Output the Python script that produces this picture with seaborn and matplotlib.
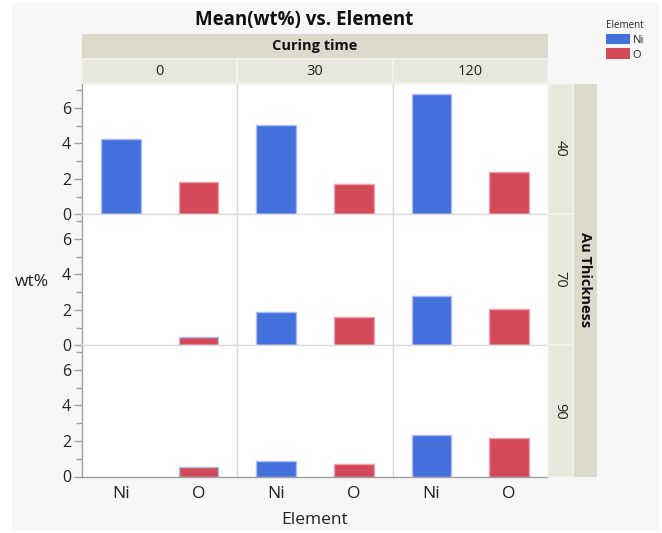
import numpy as np
import pandas as pd
import matplotlib
matplotlib.use("Agg")
import matplotlib.pyplot as plt
from matplotlib.patches import Rectangle, Patch
from matplotlib.ticker import FixedLocator
import seaborn as sns

# data (mean wt%)
elements = ["Ni", "O"]
curing_times = [0, 30, 120]
thicknesses = [40, 70, 90]
ni_40 = [4.24, 5.01, 6.76]
o_40 = [1.84, 1.69, 2.37]
ni_70 = [np.nan, 1.86, 2.76]
o_70 = [0.45, 1.58, 2.06]
ni_90 = [np.nan, 0.85, 2.35]
o_90 = [0.51, 0.70, 2.14]

rows = []
for thick, ni_vals, o_vals in [(40, ni_40, o_40), (70, ni_70, o_70), (90, ni_90, o_90)]:
    for ct, ni, o in zip(curing_times, ni_vals, o_vals):
        rows.append({"Au Thickness": thick, "Curing time": ct, "Element": "Ni", "wt%": ni})
        rows.append({"Au Thickness": thick, "Curing time": ct, "Element": "O", "wt%": o})
df = pd.DataFrame(rows)

sns.set_style("white")
plt.rcParams["font.family"] = ["Open Sans", "DejaVu Sans"]

palette = {"Ni": "#4370DD", "O": "#D44959"}
edge_cols = {"Ni": "#a8bff2", "O": "#eba3ab"}
W, H = 662, 533
fig = plt.figure(figsize=(W / 100, H / 100), dpi=100)
fig.patch.set_facecolor("white")


def fx(x):
    return x / W


def fy(y):
    return 1 - y / H


def box(x0, y0, x1, y1, color, **kw):
    fig.add_artist(Rectangle((fx(x0), fy(y1)), fx(x1) - fx(x0), fy(y0) - fy(y1),
                             transform=fig.transFigure, facecolor=color, **kw))


box(12, 3, 659, 531, "#f7f7f7", edgecolor="none", zorder=0)

col_x = [82, 237.3, 392.7, 548]
row_y = [83.3, 214.3, 345.3, 476.5]
grid_col = "#dcdcdc"

for r, thick in enumerate(thicknesses):
    for c, ct in enumerate(curing_times):
        ax = fig.add_axes([fx(col_x[c]), fy(row_y[r + 1]),
                           fx(col_x[c + 1]) - fx(col_x[c]), fy(row_y[r]) - fy(row_y[r + 1])])
        sub = df[(df["Au Thickness"] == thick) & (df["Curing time"] == ct)]
        sns.barplot(data=sub, x="Element", y="wt%", hue="Element", order=elements,
                    hue_order=elements, palette=palette, width=0.51, errorbar=None,
                    saturation=1, legend=False, ax=ax, linewidth=1)
        for patch, el in zip(ax.patches, elements):
            patch.set_edgecolor(edge_cols[el])
        ax.set_facecolor("white")
        ax.set_xlim(-0.5, 1.5)
        ax.set_ylim(0, 7.38)
        ax.set_xlabel("")
        ax.set_ylabel("")
        for s in ax.spines.values():
            s.set_color(grid_col)
            s.set_linewidth(1)
        if c == 0:
            ax.spines["left"].set_color("#a0a0a0")
            ax.yaxis.set_major_locator(FixedLocator([0, 2, 4, 6]))
            ax.yaxis.set_minor_locator(FixedLocator([1, 3, 5, 7]))
            ax.tick_params(axis="y", which="major", length=6, width=1, color="#a0a0a0",
                           labelsize=11.5, labelcolor="#222222", pad=2, left=True)
            ax.tick_params(axis="y", which="minor", length=4, width=1, color="#a0a0a0", left=True)
        else:
            ax.set_yticks([])
        if r == len(thicknesses) - 1:
            ax.spines["bottom"].set_color("#a0a0a0")
            ax.tick_params(axis="x", length=0, labelsize=12.5, labelcolor="#222222", pad=7)
        else:
            ax.set_xticks([])

# column strips
box(col_x[0], 34, col_x[-1], 58.5, "#dcdacb", edgecolor="none", zorder=1)
fig.text(fx((col_x[0] + col_x[-1]) / 2), fy(46), "Curing time", ha="center", va="center",
         fontsize=10.5, fontweight="bold", color="#111111")
for c, ct in enumerate(curing_times):
    box(col_x[c], 58.5, col_x[c + 1], 83.3, "#e8e7de", edgecolor="#f4f4ee", linewidth=1.2, zorder=1)
    fig.text(fx((col_x[c] + col_x[c + 1]) / 2), fy(71.5), str(ct), ha="center", va="center",
             fontsize=10.5, color="#222222")

# row strips
box(572.5, 84, 597, row_y[-1], "#dcdacb", edgecolor="none", zorder=1)
fig.text(fx(585), fy((row_y[0] + row_y[-1]) / 2), "Au Thickness", ha="center", va="center",
         rotation=-90, fontsize=10.5, fontweight="bold", color="#111111")
for r, thick in enumerate(thicknesses):
    box(548, max(row_y[r], 84), 572.5, row_y[r + 1], "#e8e7de", edgecolor="#f4f4ee",
        linewidth=1.2, zorder=1)
    fig.text(fx(560), fy((row_y[r] + row_y[r + 1]) / 2), str(thick), ha="center", va="center",
             rotation=-90, fontsize=10.5, color="#222222")

fig.text(fx(304), fy(20), "Mean(wt%) vs. Element", ha="center", va="center",
         fontsize=13.5, fontweight="bold", color="#111111")
fig.text(fx(32), fy(282), "wt%", ha="center", va="center", fontsize=12.5, color="#222222")
fig.text(fx(315), fy(520), "Element", ha="center", va="center", fontsize=12.5, color="#222222")

handles = [Patch(facecolor=palette[e], edgecolor="none", label=e) for e in elements]
leg = fig.legend(handles=handles, title="Element", loc="upper left",
                 bbox_to_anchor=(fx(598), fy(12)), frameon=False, fontsize=8,
                 title_fontsize=7, handlelength=2.2, handleheight=1.1,
                 handletextpad=0.2, labelspacing=0.25, borderpad=0.2)
leg._legend_box.align = "left"

fig.savefig("out.png", dpi=100)
